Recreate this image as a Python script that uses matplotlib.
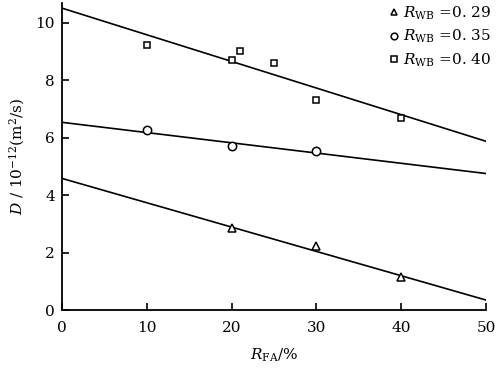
import numpy as np
import matplotlib
matplotlib.use('Agg')
import matplotlib.pyplot as plt

plt.rcParams['font.family'] = 'DejaVu Serif'
plt.rcParams['mathtext.fontset'] = 'dejavuserif'

# measured points
x_029 = [20, 30, 40]
d_029 = [2.85, 2.22, 1.15]
x_035 = [10, 20, 30]
d_035 = [6.26, 5.70, 5.53]
x_040 = [10, 20, 21, 25, 30, 40]
d_040 = [9.22, 8.70, 9.00, 8.60, 7.30, 6.67]

# fitted lines, value at x=0 and x=50
fit_x = [0, 50]
fit_029 = [4.58, 0.35]
fit_035 = [6.53, 4.75]
fit_040 = [10.50, 5.87]

labels = [r'$R_{\mathrm{WB}}$ =0. 29', r'$R_{\mathrm{WB}}$ =0. 35', r'$R_{\mathrm{WB}}$ =0. 40']

fig = plt.figure(figsize=(4.96, 3.71), dpi=100)
ax = fig.add_axes([0.125, 0.164, 0.855, 0.828])

for fy in (fit_029, fit_035, fit_040):
    ax.plot(fit_x, fy, color='black', lw=1.2)

ax.plot(x_029, d_029, '^', ms=6, mfc='white', mec='black', mew=1.1, ls='none', label=labels[0])
ax.plot(x_035, d_035, 'o', ms=6, mfc='white', mec='black', mew=1.1, ls='none', label=labels[1])
ax.plot(x_040, d_040, 's', ms=5, mfc='white', mec='black', mew=1.1, ls='none', label=labels[2])

ax.set_xlim(0, 50)
ax.set_ylim(0, 10.68)
ax.set_xticks([0, 10, 20, 30, 40, 50])
ax.set_yticks([0, 2, 4, 6, 8, 10])
ax.spines['top'].set_visible(False)
ax.spines['right'].set_visible(False)
ax.spines['left'].set_linewidth(1.3)
ax.spines['bottom'].set_linewidth(1.3)
ax.tick_params(direction='in', length=5, width=1.2, labelsize=11)
ax.tick_params(axis='x', pad=8)
ax.tick_params(axis='y', pad=5)

ax.set_xlabel(r'$R_{\mathrm{FA}}$/%', fontsize=11, labelpad=8)
ax.set_ylabel(r'$D$ / 10$^{-12}$(m$^2$/s)', fontsize=11, labelpad=6)

leg = ax.legend(loc='upper right', bbox_to_anchor=(1.045, 1.04), frameon=False,
                fontsize=11, handlelength=0.6, handletextpad=0.3, labelspacing=0.4,
                markerscale=0.8)

fig.savefig('out.png', dpi=100)
